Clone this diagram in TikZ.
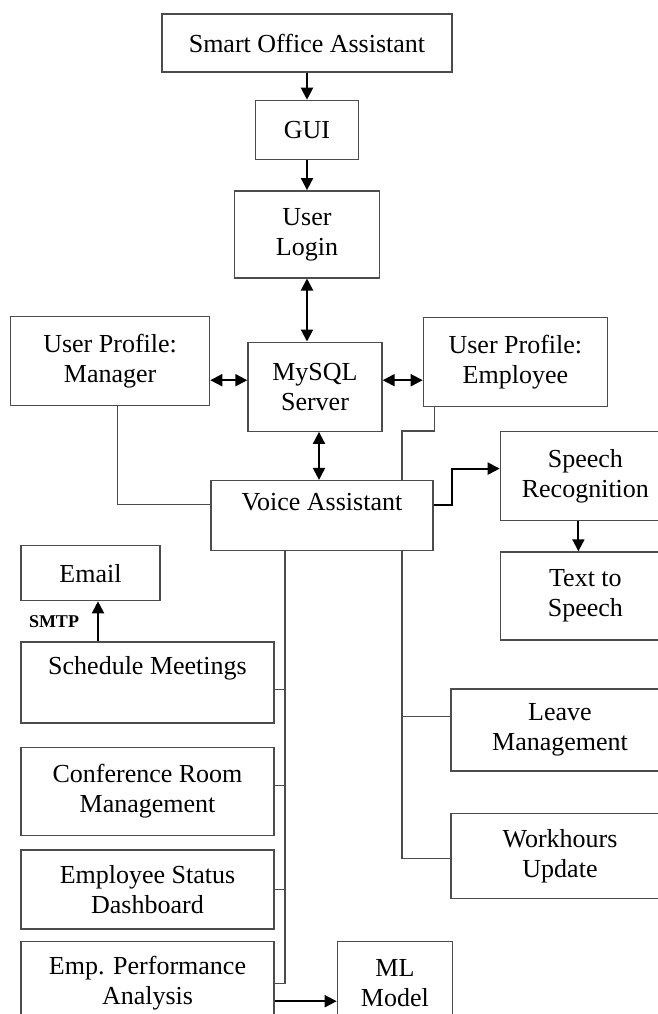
\documentclass[tikz,border=0pt]{standalone}
\usepackage{fontspec}
\setmainfont{Liberation Serif}
\usetikzlibrary{arrows.meta,positioning}

\begin{document}
\begin{tikzpicture}[
    x=0.5pt, y=-0.5pt,
    box/.style={draw=black!70, line width=0.7pt, align=center, inner sep=0pt, font=\fontsize{13pt}{15pt}\selectfont},
    arrow/.style={-{Triangle[length=6pt,width=6pt]}, line width=1pt},
    dblarrow/.style={{Triangle[length=6pt,width=6pt]}-{Triangle[length=6pt,width=6pt]}, line width=1pt},
    link/.style={draw=black!70, line width=0.6pt},
    tag/.style={font=\fontsize{9pt}{10pt}\selectfont\bfseries, inner sep=0pt}
]
\path[use as bounding box, clip] (0,0) rectangle (658,1014);

% main column
\node[box, minimum width=145pt, minimum height=29pt] (soa) at (307,43) {Smart Office Assistant};
\node[box, minimum width=51.5pt, minimum height=29.5pt, below=13.5pt of soa] (gui) {GUI};
\node[box, minimum width=72.5pt, minimum height=43.5pt, below=15pt of gui] (login) {User\\Login};
\node[box, minimum width=67pt, minimum height=44.5pt, below=31.5pt of login, xshift=4pt] (mysql) {MySQL\\Server};
\node[box, minimum width=99.5pt, minimum height=44.5pt, left=18.5pt of mysql, yshift=13pt] (manager) {User Profile:\\Manager};
\node[box, minimum width=92pt, minimum height=44.5pt, right=20pt of mysql, yshift=12.5pt] (employee) {User Profile:\\Employee};
\node[box, minimum width=111pt, minimum height=35pt, text depth=14pt, below=24pt of mysql, xshift=3.5pt] (va) {Voice Assistant};

% speech side
\node[box, minimum width=85pt, minimum height=44.5pt, right=33pt of va, yshift=19.75pt] (speech) {Speech\\Recognition};
\node[box, minimum width=85pt, minimum height=44pt, below=15pt of speech] (tts) {Text to\\Speech};

% manager features
\node[box, minimum width=126.5pt, minimum height=40.5pt, text depth=17pt] (schedule) at (147.5,682.5) {Schedule Meetings};
\node[box, minimum width=69.5pt, minimum height=27.5pt, above right=20pt and 0pt of schedule.north west] (email) {Email};
\node[box, minimum width=126.5pt, minimum height=44pt, below=11.5pt of schedule] (conference) {Conference Room\\Management};
\node[box, minimum width=126.5pt, minimum height=39.5pt, below=6.5pt of conference] (dashboard) {Employee Status\\Dashboard};
\node[box, minimum width=126.5pt, minimum height=42pt, below=5.5pt of dashboard] (perf) {Emp. Performance\\Analysis};
\node[box, minimum width=57.5pt, minimum height=42pt, right=31pt of perf] (ml) {ML\\Model};

% employee features
\node[box, minimum width=109pt, minimum height=41pt] (leave) at (560,730) {Leave\\Management};
\node[box, minimum width=109pt, minimum height=42.5pt, below=20.5pt of leave] (workhours) {Workhours\\Update};

% arrows
\draw[arrow] (soa) -- (gui);
\draw[arrow] (gui) -- (login);
\draw[dblarrow] (login.south) -- (login.south |- mysql.north);
\draw[dblarrow] ([yshift=3.25pt]mysql.west) -- ([yshift=3.25pt]mysql.west -| manager.east);
\draw[dblarrow] ([yshift=3.25pt]mysql.east) -- ([yshift=3.25pt]mysql.east -| employee.west);
\draw[dblarrow] ([xshift=2pt]mysql.south) -- ([xshift=2pt]mysql.south |- va.north);
\draw[arrow] ([yshift=5.5pt]va.east) -- ++(9pt,0) |- ([yshift=3.75pt]speech.west);
\draw[arrow] ([xshift=-3.5pt]speech.south) -- ([xshift=-3.5pt]speech.south |- tts.north);
\draw[arrow] ([xshift=3.75pt]email.south |- schedule.north) -- node[tag, left=9pt] {SMTP} ([xshift=3.75pt]email.south);
\draw[arrow] ([yshift=-9pt]perf.east) -- ([yshift=-9pt]perf.east -| ml.west);

% plain links
\coordinate (ltrunk) at ([xshift=-18.5pt]va.south);
\coordinate (rtrunk) at ([xshift=40pt]va.south);
\draw[link] ([xshift=3.75pt]manager.south) |- ([yshift=5.5pt]va.west);
\draw[link] ([xshift=-40.5pt]employee.south) -- ++(0,-12pt) -| ([xshift=40pt]va.north);
\draw[link] (ltrunk) |- (perf.east);
\draw[link] ([yshift=-3.5pt]schedule.east) -- ([yshift=-3.5pt]schedule.east -| ltrunk);
\draw[link] ([yshift=3pt]conference.east) -- ([yshift=3pt]conference.east -| ltrunk);
\draw[link] (dashboard.east) -- (dashboard.east -| ltrunk);
\draw[link] (rtrunk) |- ([yshift=-1.25pt]workhours.west);
\draw[link] ([yshift=6.75pt]leave.west) -- ([yshift=6.75pt]leave.west -| rtrunk);
\end{tikzpicture}
\end{document}
